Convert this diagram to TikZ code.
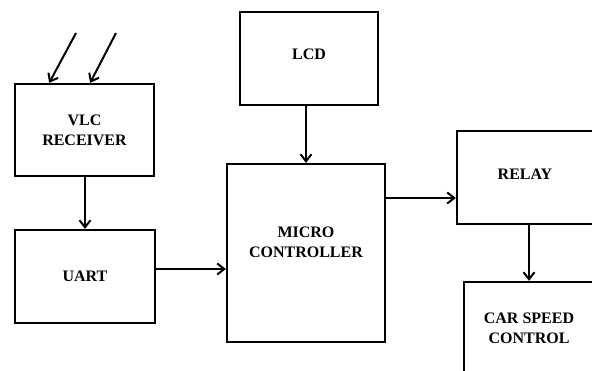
\documentclass[tikz,border=0pt]{standalone}
\usepackage{fontspec}
\setmainfont{Liberation Serif}
\usetikzlibrary{arrows.meta,calc}

\begin{document}
\begin{tikzpicture}[
    x=1pt, y=-1pt,
    block/.style={draw, line width=2.3pt, align=center, inner sep=0pt, font=\fontsize{16}{20}\selectfont\bfseries},
    arr/.style={-{Straight Barb[length=7pt,width=11pt,line width=2pt]}, line width=2pt}
]
    \useasboundingbox (0,0) rectangle (592,370);
    \clip (0,0) rectangle (592,370);

    % Receiver side
    \node[block, minimum width=139pt, minimum height=92pt] (vlc) at (84.5,130) {VLC\\RECEIVER};
    \node[block, minimum width=140pt, minimum height=93pt] (uart) at (85,276.5) {UART};

    % Controller and display
    \node[block, minimum width=138pt, minimum height=93pt, text depth=9pt] (lcd) at (309,58.5) {LCD};
    \node[block, minimum width=158pt, minimum height=178pt, text depth=22pt] (mcu) at (306,253) {MICRO\\CONTROLLER};

    % Output side
    \node[block, minimum width=136pt, minimum height=93pt, text depth=7pt] (relay) at (525,177.5) {RELAY};
    \node[block, minimum width=130pt, minimum height=92pt] (car) at (529,328) {CAR SPEED\\CONTROL};

    % Incoming light
    \coordinate (ray1) at (76,33);
    \coordinate (ray2) at (116,33);
    \draw[arr] (ray1) -- ($(vlc.north west)!0.25!(vlc.north east)$);
    \draw[arr] (ray2) -- ($(vlc.north west)!0.54!(vlc.north east)$);

    % Signal path
    \draw[arr] (uart.north |- vlc.south) -- (uart.north);
    \draw[arr] ([yshift=7.5pt]uart.east) -- ([yshift=7.5pt]uart.east -| mcu.west);
    \draw[arr] (mcu.north |- lcd.south) -- (mcu.north);
    \draw[arr] ([yshift=-20.5pt]relay.west -| mcu.east) -- ([yshift=-20.5pt]relay.west);
    \draw[arr] (car.north |- relay.south) -- (car.north);
\end{tikzpicture}
\end{document}
